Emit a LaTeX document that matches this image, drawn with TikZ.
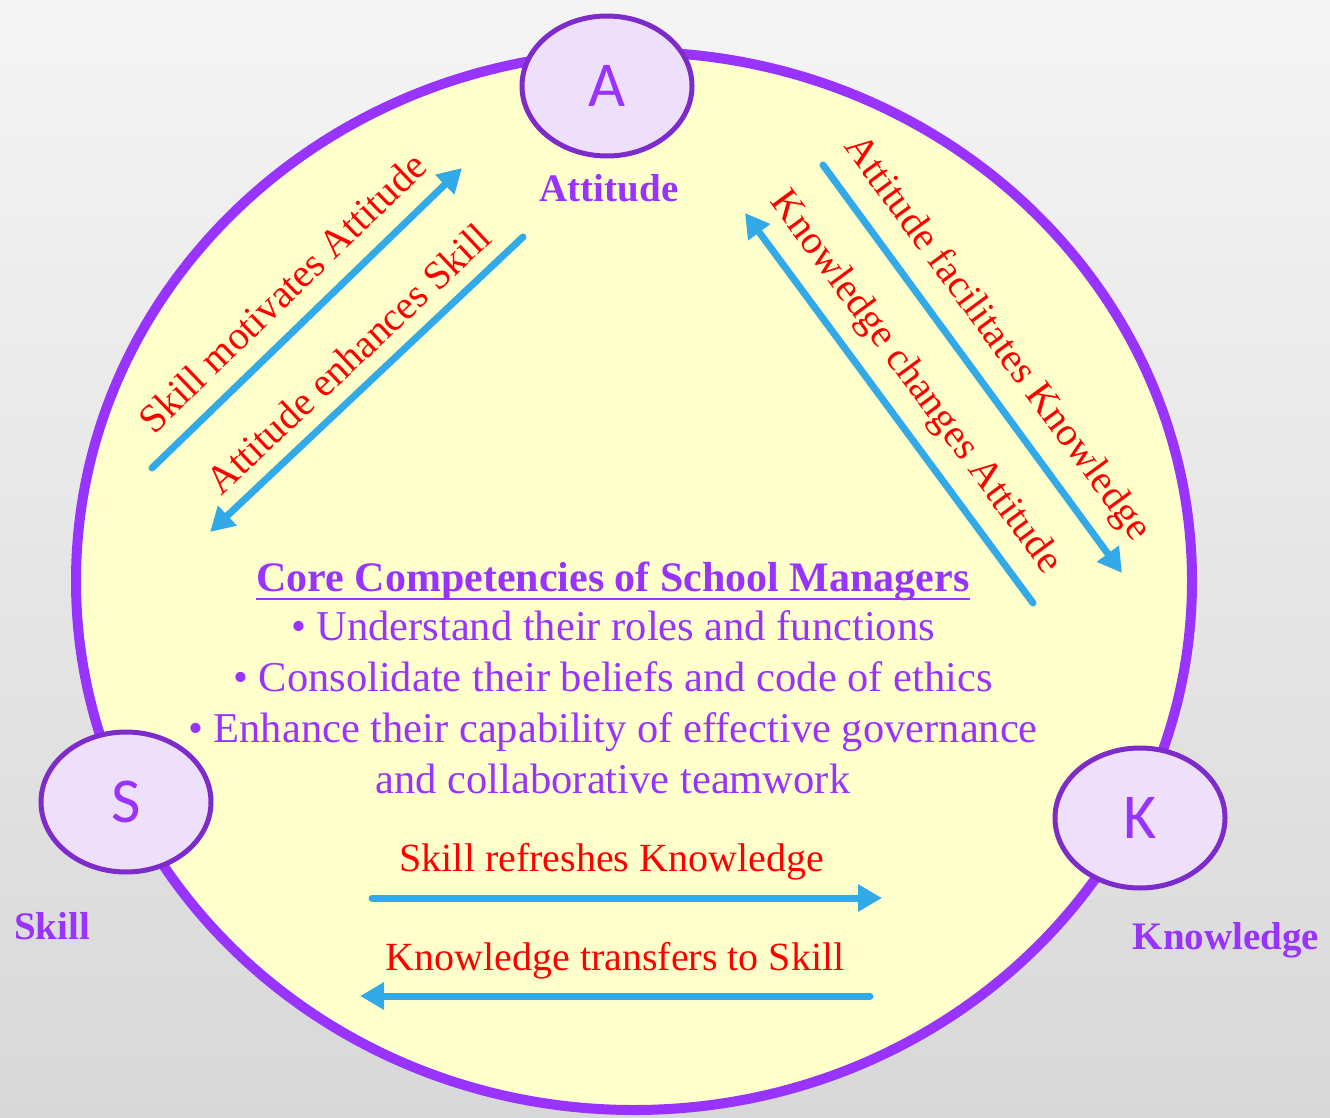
\documentclass[tikz,border=0pt]{standalone}
\usepackage{fontspec}
\setmainfont{Liberation Serif}
\newfontfamily\letterfont{Carlito}
\usetikzlibrary{shapes.geometric,arrows.meta}

\definecolor{ringpurple}{HTML}{9933FF}
\definecolor{edgepurple}{HTML}{7E2BCC}
\definecolor{lilac}{HTML}{EEE0FA}
\definecolor{paleyellow}{HTML}{FFFFCC}
\definecolor{flowblue}{HTML}{33AAE8}

\tikzset{
  letter/.style={ellipse, draw=edgepurple, line width=5pt, fill=lilac,
    minimum width=170pt, minimum height=140pt, inner sep=0pt,
    text=ringpurple, font=\letterfont\fontsize{64}{64}\selectfont},
  tag/.style={text=ringpurple, inner sep=0pt, font=\bfseries\fontsize{39}{39}\selectfont},
  pipe/.style={draw=flowblue, line width=7pt, line cap=round},
  fwd/.style={pipe, -{Triangle[length=24pt,width=26pt]}},
  bwd/.style={pipe, {Triangle[length=24pt,width=26pt]}-},
  rel/.style={text=red, inner sep=0pt, sloped, font=\fontsize{40}{40}\selectfont},
  body/.style={text=ringpurple, inner sep=0pt, font=\fontsize{42.5}{51}\selectfont},
}

\begin{document}
\begin{tikzpicture}[x=1pt,y=-1pt]
	\shade[top color={rgb,255:red,244;green,244;blue,244}, bottom color={rgb,255:red,216;green,216;blue,216}] (0,0) rectangle (1330,1118);
	\useasboundingbox (0,0) rectangle (1330,1118);
	% outer ring
	\draw[ringpurple, line width=10pt, fill=paleyellow] (634,581) ellipse [x radius=558pt, y radius=529pt];

	% ends of the arrows
	\coordinate (sa1) at (152,468);  \coordinate (sa2) at (462,168);
	\coordinate (as1) at (210,532);  \coordinate (as2) at (523,237);
	\coordinate (ak1) at (823,165);  \coordinate (ak2) at (1122,573);
	\coordinate (ka1) at (745,213);  \coordinate (ka2) at (1033,603);
	\coordinate (sk1) at (372,898);  \coordinate (sk2) at (882,898);
	\coordinate (ks1) at (360,996);  \coordinate (ks2) at (870,996);

	\draw[fwd] (sa1) -- (sa2) node[rel, pos=0.5, above=18pt] {Skill motivates Attitude};
	\draw[bwd] (as1) -- (as2) node[rel, pos=0.51, above=14pt] {Attitude enhances Skill};
	\draw[fwd] (ak1) -- (ak2) node[rel, pos=0.48, above=15pt] {Attitude facilitates Knowledge};
	\draw[bwd] (ka1) -- (ka2) node[rel, pos=0.49, above=14pt] {Knowledge changes Attitude};
	\draw[fwd] (sk1) -- (sk2) node[rel, pos=0.47, above=14pt] {Skill refreshes Knowledge};
	\draw[bwd] (ks1) -- (ks2) node[rel, pos=0.5, above=13pt] {Knowledge transfers to Skill};

	% centre text
	\node[body, font=\bfseries\fontsize{42}{51}\selectfont, anchor=base] (title) at (613,591) {Core Competencies of School Managers};
	\draw[ringpurple, line width=2pt] ([yshift=-8pt]title.base west) -- ([yshift=-8pt]title.base east);
	\node[body, align=center, anchor=base] (points) at (613,793) {\textbullet\ Understand their roles and functions\\
		\textbullet\ Consolidate their beliefs and code of ethics\\
		\textbullet\ Enhance their capability of effective governance\\
		and collaborative teamwork};

	% corners
	\node[letter] (A) at (607,86) {A};
	\node[letter] (S) at (126,802) {S};
	\node[letter] (K) at (1140,818) {K};
	\node[tag] (attlab) at (609,188) {Attitude};
	\node[tag] (skilab) at (52,926) {Skill};
	\node[tag] (knolab) at (1226,940) {Knowledge};
\end{tikzpicture}
\end{document}
